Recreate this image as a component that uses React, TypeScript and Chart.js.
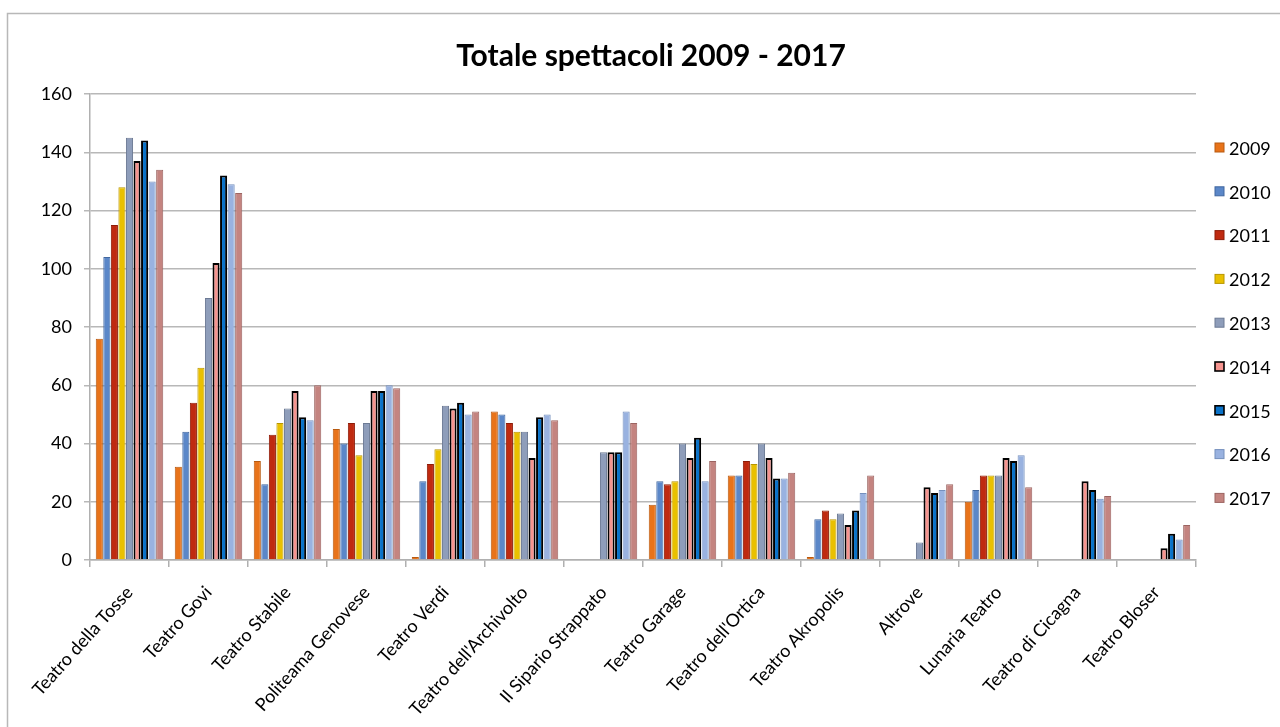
import React, { useEffect, useRef } from "react";
import { Chart, registerables } from "chart.js";

Chart.register(...registerables);

const categories = [
  "Teatro della Tosse",
  "Teatro Govi",
  "Teatro Stabile",
  "Politeama Genovese",
  "Teatro Verdi",
  "Teatro dell'Archivolto",
  "Il Sipario Strappato",
  "Teatro Garage",
  "Teatro dell'Ortica",
  "Teatro Akropolis",
  "Altrove",
  "Lunaria Teatro",
  "Teatro di Cicagna",
  "Teatro Bloser",
];

const years = ["2009", "2010", "2011", "2012", "2013", "2014", "2015", "2016", "2017"];

const v2009 = [76, 32, 34, 45, 1, 51, 0, 19, 29, 1, 0, 20, 0, 0];
const v2010 = [104, 44, 26, 40, 27, 50, 0, 27, 29, 14, 0, 24, 0, 0];
const v2011 = [115, 54, 43, 47, 33, 47, 0, 26, 34, 17, 0, 29, 0, 0];
const v2012 = [128, 66, 47, 36, 38, 44, 0, 27, 33, 14, 0, 29, 0, 0];
const v2013 = [145, 90, 52, 47, 53, 44, 37, 40, 40, 16, 6, 29, 0, 0];
const v2014 = [137, 102, 58, 58, 52, 35, 37, 35, 35, 12, 25, 35, 27, 4];
const v2015 = [144, 132, 49, 58, 54, 49, 37, 42, 28, 17, 23, 34, 24, 9];
const v2016 = [130, 129, 48, 60, 50, 50, 51, 27, 28, 23, 24, 36, 21, 7];
const v2017 = [134, 126, 60, 59, 51, 48, 47, 34, 30, 29, 26, 25, 22, 12];

const seriesValues = [v2009, v2010, v2011, v2012, v2013, v2014, v2015, v2016, v2017];
const seriesColors = [
  "#E8731A",
  "#5B87C8",
  "#BF2A10",
  "#E9C000",
  "#8E9DBA",
  "#F6948F",
  "#0A72C8",
  "#99B2E0",
  "#C48480",
];
const seriesEdges = [
  "#B85A10",
  "#41679F",
  "#8E1C08",
  "#B89600",
  "#6C7A94",
  "#000000",
  "#000000",
  "#7590BD",
  "#9C6461",
];
const outlined = [false, false, false, false, false, true, true, false, false];

const yTicks = [0, 20, 40, 60, 80, 100, 120, 140, 160];
const titleText = "Totale spettacoli 2009 - 2017";

const FONT = "Lato, 'Open Sans', sans-serif";

const decorPlugin = {
  id: "decor",
  beforeDraw(chart: any) {
    const ctx = chart.ctx;
    ctx.save();
    ctx.fillStyle = "#ffffff";
    ctx.fillRect(0, 0, chart.width, chart.height);
    ctx.strokeStyle = "#b8b8b8";
    ctx.lineWidth = 1.5;
    ctx.beginPath();
    ctx.moveTo(7.5, chart.height + 5);
    ctx.lineTo(7.5, 13.5);
    ctx.lineTo(chart.width + 5, 13.5);
    ctx.stroke();
    ctx.restore();
  },
  afterDraw(chart: any) {
    const ctx = chart.ctx;
    ctx.save();
    // title
    ctx.fillStyle = "#000";
    ctx.font = `bold 30px ${FONT}`;
    ctx.textAlign = "center";
    ctx.textBaseline = "middle";
    ctx.fillText(titleText, 651, 56);
    // legend
    const ds = chart.data.datasets;
    ctx.font = `18px ${FONT}`;
    ctx.textAlign = "left";
    for (let i = 0; i < ds.length; i++) {
      const y = 148 + i * 43.8;
      const d = ds[i];
      ctx.fillStyle = d.backgroundColor;
      ctx.fillRect(1215, y - 5, 9, 9);
      ctx.strokeStyle = outlined[i] ? "#000" : seriesEdges[i];
      ctx.lineWidth = outlined[i] ? 1.6 : 1;
      ctx.strokeRect(1215, y - 5, 9, 9);
      ctx.fillStyle = "#000";
      ctx.fillText(d.label, 1229, y + 1);
    }
    ctx.restore();
  },
};

export default function App() {
  const ref = useRef<HTMLCanvasElement>(null);
  useEffect(() => {
    if (!ref.current) return;
    const chart = new Chart(ref.current, {
      type: "bar",
      data: {
        labels: categories,
        datasets: years.map((y, i) => ({
          label: y,
          data: seriesValues[i],
          backgroundColor: seriesColors[i],
          borderColor: seriesEdges[i],
          borderWidth: outlined[i] ? 2 : 1,
          borderSkipped: "bottom",
          categoryPercentage: 0.86,
          barPercentage: 0.94,
        })),
      },
      options: {
        responsive: false,
        animation: false,
        layout: { padding: { top: 94, right: 84, left: 0, bottom: 0 } },
        plugins: {
          legend: { display: false },
          title: { display: false },
          tooltip: { enabled: false },
        },
        scales: {
          x: {
            offset: true,
            grid: {
              offset: true,
              drawOnChartArea: false,
              tickLength: 7,
              color: "#b0b0b0",
              lineWidth: 1.5,
            },
            border: { color: "#b0b0b0", width: 1.5 },
            ticks: {
              autoSkip: false,
              minRotation: 48,
              maxRotation: 48,
              color: "#000",
              padding: 15,
              font: { family: FONT, size: 18 },
            },
            afterFit(scale: any) {
              scale.height = 167;
            },
          },
          y: {
            min: 0,
            max: 160,
            afterBuildTicks(scale: any) {
              scale.ticks = yTicks.map((v) => ({ value: v }));
            },
            grid: {
              color: "#b8b8b8",
              lineWidth: 1.5,
              tickLength: 6,
            },
            border: { color: "#b0b0b0", width: 1.5 },
            ticks: {
              color: "#000",
              padding: 12,
              font: { family: FONT, size: 18 },
            },
            afterFit(scale: any) {
              scale.width = 90;
            },
          },
        },
      },
      plugins: [decorPlugin],
    });
    return () => chart.destroy();
  }, []);
  return (
    <div style={{ position: "absolute", left: 0, top: 0, width: 1280, height: 727 }}>
      <canvas ref={ref} width={1280} height={727} style={{ display: "block" }} />
    </div>
  );
}
